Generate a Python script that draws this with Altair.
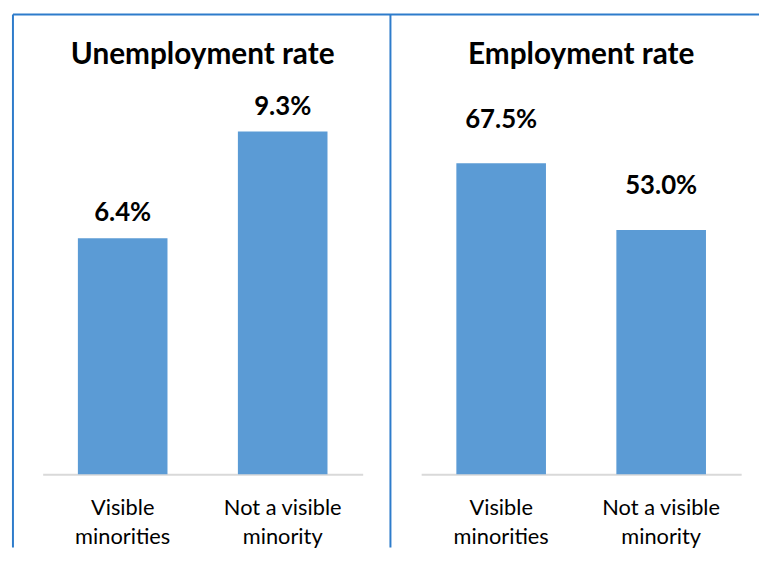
import json
import altair as alt
import pandas as pd

# ---- data ----
categories = ["Visible minorities", "Not a visible minority"]
# U+200C (zero-width non-joiner) keeps the font from merging "ti" into a ligature
category_lines = [["Visible", "minori\u200cties"], ["Not a visible", "minority"]]
unemployment_rate = [6.4, 9.3]
employment_rate = [67.5, 53.0]
panel_titles = ["Unemployment rate", "Employment rate"]
axis_max = [10, 80]

BAR = "#5B9BD5"
BORDER = "#2E7CCB"
FONT = "Lato"
W, H = 323, 372


def js(v):
    return json.dumps(v, ensure_ascii=False)


label_expr = " : ".join(
    f"datum.value == {js(c)} ? {js(lines)}" for c, lines in zip(categories[:-1], category_lines[:-1])
) + f" : {js(category_lines[-1])}"


def panel(values, title, ymax, dy, with_frame=False):
    df = pd.DataFrame({
        "group": categories,
        "value": values,
        "label": [f"{v:.1f}%" for v in values],
    })
    x = alt.X(
        "group:N", sort=categories,
        scale=alt.Scale(paddingInner=0.44, paddingOuter=0.22),
        axis=alt.Axis(
            title=None, labelAngle=0, labelExpr=label_expr,
            labelFont=FONT, labelFontSize=22, labelColor="#000000",
            labelLineHeight=29, labelPadding=24, ticks=False,
            domainColor="#D9D9D9", domainWidth=2,
        ),
    )
    y = alt.Y("value:Q", scale=alt.Scale(domain=[0, ymax], nice=False), axis=None)
    base = alt.Chart(df)
    bars = base.mark_bar(color=BAR).encode(x=x, y=y)
    labels = base.mark_text(
        font=FONT, fontWeight="bold", fontSize=26, color="#000000",
        baseline="alphabetic", dy=dy,
    ).encode(x=x, y=y, text="label:N")
    ttl = alt.Chart(pd.DataFrame({"t": [title]})).mark_text(
        font=FONT, fontWeight="bold", fontSize=30, color="#000000",
        baseline="alphabetic", align="center",
    ).encode(text="t:N", x=alt.value(W / 2), y=alt.value(-42))
    layers = [bars, labels, ttl]
    if with_frame:
        fr = alt.Chart(pd.DataFrame({"k": [0]})).mark_rule(color=BORDER, strokeWidth=2)
        layers += [
            fr.encode(x=alt.value(-30), x2=alt.value(723), y=alt.value(-92)),
            fr.encode(x=alt.value(-30), y=alt.value(-92), y2=alt.value(446)),
            fr.encode(x=alt.value(351), y=alt.value(-92), y2=alt.value(446)),
        ]
    return alt.layer(*layers).properties(width=W, height=H)


left = panel(unemployment_rate, panel_titles[0], axis_max[0], -17, with_frame=True)
right = panel(employment_rate, panel_titles[1], axis_max[1], -36)

chart = alt.hconcat(left, right, spacing=59, bounds="flush").properties(
    padding={"left": 4, "top": 3, "right": 0, "bottom": 0}
).configure_view(stroke=None)

chart.save("out.html", embed_options={"renderer": "svg", "actions": False})
